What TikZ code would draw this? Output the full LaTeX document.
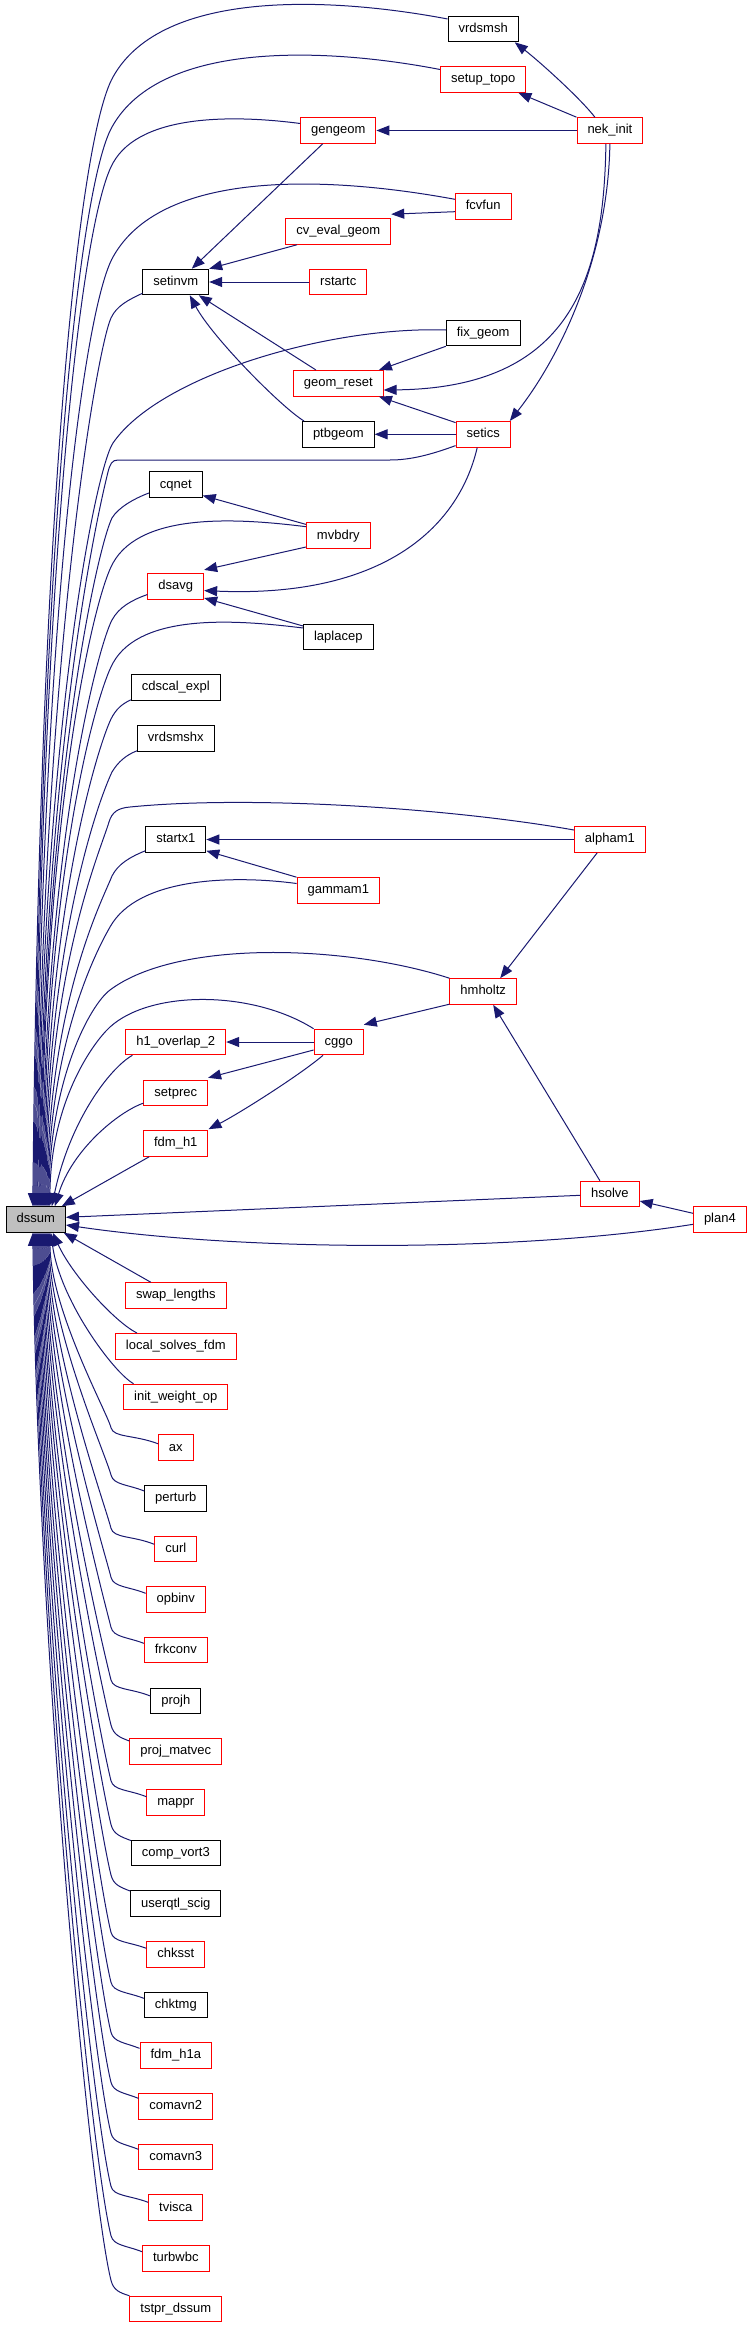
\documentclass[tikz,border=0pt]{standalone}
\usepackage{fontspec}
\setmainfont{Liberation Sans}
\usetikzlibrary{arrows.meta,calc}
\definecolor{edgec}{RGB}{25,25,112}
\definecolor{nodered}{RGB}{255,0,0}
\definecolor{dssumfill}{RGB}{191,191,191}
\tikzset{
  fn/.style={draw, line width=1pt, inner xsep=10.5pt, inner ysep=0pt, minimum height=25.6pt,
    text height=9.4pt, text depth=2.8pt, font=\fontsize{13}{15}\selectfont, fill=white},
  rfn/.style={fn, draw=nodered},
  bfn/.style={fn, draw=black},
  edge/.style={draw=edgec, line width=1pt, -{Triangle[length=13pt,width=10pt]}}
}
\begin{document}
\begin{tikzpicture}[x=1pt,y=-1pt]
\useasboundingbox (0,0) rectangle (752,2328);
% ---------- nodes ----------
\node[bfn] (vrdsmsh) at (483.2,29) {vrdsmsh};
\node[rfn] (setuptopo) at (483.2,79.5) {setup\_topo};
\node[rfn] (gengeom) at (338.3,130.5) {gengeom};
\node[rfn] (nekinit) at (609.9,130.5) {nek\_init};
\node[rfn] (fcvfun) at (483.2,206.3) {fcvfun};
\node[rfn] (cveval) at (338.3,231.5) {cv\_eval\_geom};
\node[bfn] (setinvm) at (175.8,282) {setinvm};
\node[rfn] (rstartc) at (338.3,282) {rstartc};
\node[bfn] (fixgeom) at (483.2,333) {fix\_geom};
\node[rfn] (geomreset) at (338.3,383.3) {geom\_reset};
\node[bfn] (ptbgeom) at (338.3,434.3) {ptbgeom};
\node[rfn] (setics) at (483.2,434.3) {setics};
\node[bfn] (cqnet) at (175.8,484.7) {cqnet};
\node[rfn] (mvbdry) at (338.3,535.7) {mvbdry};
\node[rfn] (dsavg) at (175.8,586.2) {dsavg};
\node[bfn] (laplacep) at (338.3,637) {laplacep};
\node[bfn] (cdscalexpl) at (175.8,687.5) {cdscal\_expl};
\node[bfn] (vrdsmshx) at (175.8,738.5) {vrdsmshx};
\node[bfn] (startx1) at (175.8,839.5) {startx1};
\node[rfn] (alpham1) at (609.9,839.5) {alpham1};
\node[rfn] (gammam1) at (338.3,890.5) {gammam1};
\node[rfn] (hmholtz) at (483.2,991.5) {hmholtz};
\node[rfn] (h1overlap) at (175.8,1042) {h1\_overlap\_2};
\node[rfn] (cggo) at (338.7,1042) {cggo};
\node[rfn] (setprec) at (175.8,1092.8) {setprec};
\node[rfn] (fdmh1) at (175.8,1143.5) {fdm\_h1};
\node[rfn] (hsolve) at (609.9,1194) {hsolve};
\node[rfn] (plan4) at (719.9,1219.5) {plan4};
\node[bfn, fill=dssumfill] (dssum) at (35.8,1219.5) {dssum};
\node[rfn] (swaplengths) at (175.8,1295.5) {swap\_lengths};
\node[rfn] (localsolves) at (175.8,1346.3) {local\_solves\_fdm};
\node[rfn] (initweight) at (175.8,1397) {init\_weight\_op};
\node[rfn] (ax) at (175.8,1447.7) {ax};
\node[bfn] (perturb) at (175.8,1498.3) {perturb};
\node[rfn] (curl) at (175.8,1549) {curl};
\node[rfn] (opbinv) at (175.8,1599.5) {opbinv};
\node[rfn] (frkconv) at (175.8,1650) {frkconv};
\node[bfn] (projh) at (175.8,1701) {projh};
\node[rfn] (projmatvec) at (175.8,1751.5) {proj\_matvec};
\node[rfn] (mappr) at (175.8,1802.5) {mappr};
\node[bfn] (compvort) at (175.8,1853) {comp\_vort3};
\node[bfn] (userqtl) at (175.8,1903.7) {userqtl\_scig};
\node[rfn] (chksst) at (175.8,1954.3) {chksst};
\node[bfn] (chktmg) at (175.8,2005) {chktmg};
\node[rfn] (fdmhone) at (175.8,2055.5) {fdm\_h1a};
\node[rfn] (comavntwo) at (175.8,2106.3) {comavn2};
\node[rfn] (comavnthree) at (175.8,2157) {comavn3};
\node[rfn] (tvisca) at (175.8,2207.7) {tvisca};
\node[rfn] (turbwbc) at (175.8,2258.3) {turbwbc};
\node[rfn] (tstpr) at (175.8,2309) {tstpr\_dssum};
% ---------- edges among callers ----------
\draw[edge] ($(nekinit.north)+(-15,0)$) .. controls (580,98) and (540,62) .. ($(vrdsmsh.south east)+(-4,0)$);
\draw[edge] (nekinit.north west) -- ($(setuptopo.south east)+(-8,0)$);
\draw[edge] (nekinit.west) -- (gengeom.east);
\draw[edge] ($(nekinit.south)+(-4,0)$) .. controls (604,280) and (570,388) .. ($(geomreset.east)+(0,6.7)$);
\draw[edge] (nekinit.south) .. controls (608,260) and (558,360) .. ($(setics.north east)+(-1,0)$);
\draw[edge] ($(gengeom.south west)+(22.5,0)$) -- ($(setinvm.north)+(16,0)$);
\draw[edge] ($(fcvfun.west)+(0,5.4)$) -- ($(cveval.north east)+(0,-4)$);
\draw[edge] ($(cveval.south west)+(11.5,0)$) -- (setinvm.north east);
\draw[edge] (rstartc.west) -- (setinvm.east);
\draw[edge] ($(geomreset.north west)+(23,0)$) -- ($(setinvm.south)+(23,0)$);
\draw[edge] ($(ptbgeom.north west)+(2,0)$) .. controls (281,407) and (212,337) .. ($(setinvm.south)+(14,0)$);
\draw[edge] (fixgeom.south west) -- ($(geomreset.north east)+(-4.7,0)$);
\draw[edge] ($(setics.north west)+(0,1.6)$) -- ($(geomreset.south east)+(-4.7,0)$);
\draw[edge] (setics.west) -- (ptbgeom.east);
\draw[edge] ($(setics.south)+(-6,0)$) .. controls (458,530) and (380,598) .. ($(dsavg.east)+(0,4.4)$);
\draw[edge] ($(mvbdry.north west)+(0,2)$) -- ($(cqnet.south east)+(0,-2.5)$);
\draw[edge] ($(mvbdry.south west)+(0,-2)$) -- ($(dsavg.north east)+(0,-3)$);
\draw[edge] ($(laplacep.north west)+(0,2.3)$) -- ($(dsavg.south east)+(0,-1.5)$);
\draw[edge] (alpham1.west) -- (startx1.east);
\draw[edge] (gammam1.north west) -- ($(startx1.south east)+(0,-2)$);
\draw[edge] ($(alpham1.south)+(-12.7,0)$) -- ($(hmholtz.north)+(17,0)$);
\draw[edge] ($(hmholtz.south west)+(0,-0.6)$) -- ($(cggo.north east)+(0,-4)$);
\draw[edge] (cggo.west) -- (h1overlap.east);
\draw[edge] ($(cggo.west)+(0,8)$) -- ($(setprec.north east)+(0,-1.7)$);
\draw[edge] ($(cggo.south west)+(9.4,0)$) .. controls (300,1075) and (238.7,1113.7) .. ($(fdmh1.north east)+(0,-1)$);
\draw[edge] ($(hsolve.north)+(-10,0)$) -- ($(hmholtz.south)+(10,0)$);
\draw[edge] ($(plan4.west)+(0,-6.2)$) -- ($(hsolve.east)+(0,7)$);
% ---------- edges into dssum from above ----------
\draw[edge] ($(vrdsmsh.west)+(0,-10)$) .. controls (337,-2) and (163,-13) .. (113,77) .. controls (79.1,136.9) and (39.6,506.3) .. ($(dssum.north)+(-3,0)$);
\draw[edge] ($(setuptopo.west)+(0,-10)$) .. controls (331.6,48.5) and (161.2,38.5) .. (112,127) .. controls (79.6,184.2) and (40.3,537.3) .. ($(dssum.north)+(-2,0)$);
\draw[edge] ($(gengeom.west)+(0,-7)$) .. controls (239.2,115.5) and (141.2,112.2) .. (113,163) .. controls (81.7,218.3) and (41.1,559.6) .. ($(dssum.north)+(-1,0)$);
\draw[edge] ($(fcvfun.west)+(0,-7)$) .. controls (341.3,178.3) and (164.1,165) .. (113,257) .. controls (84.5,307.3) and (41.5,617.9) .. (dssum.north);
\draw[edge] ($(setinvm.south west)+(0,-2)$) .. controls (128,300) and (116.5,306) .. (111,318) .. controls (97.2,348) and (42.1,655.7) .. ($(dssum.north)+(1,0)$);
\draw[edge] ($(fixgeom.west)+(0,-3)$) .. controls (330,326) and (160,375) .. (113,443) .. controls (96,468) and (41.4,733) .. ($(dssum.north)+(2,0)$);
\draw[edge] ($(setics.south west)+(0,-2)$) .. controls (430,455) and (410,460) .. (390,460) -- (118,460) .. controls (112,460) and (110,464) .. (108,472) .. controls (98,512) and (43.3,751) .. ($(dssum.north)+(3,0)$);
\draw[edge] ($(cqnet.south west)+(0,-5)$) .. controls (133,499) and (118,508) .. (112,518) .. controls (98,546) and (43.8,779.7) .. ($(dssum.north)+(4,0)$);
\draw[edge] ($(mvbdry.west)+(0,-9)$) .. controls (242,518.7) and (141.9,511) .. (113,563) .. controls (93.7,597.1) and (44.2,807.6) .. ($(dssum.north)+(5,0)$);
\draw[edge] ($(dsavg.south west)+(0,-5)$) .. controls (132,600) and (119,607) .. (112,620) .. controls (98.5,645) and (44.9,843) .. ($(dssum.north)+(6,0)$);
\draw[edge] ($(laplacep.west)+(0,-9)$) .. controls (240.4,620.3) and (141.5,611.7) .. (113,663) .. controls (96.7,691.8) and (45.7,869.6) .. ($(dssum.north)+(7,0)$);
\draw[edge] ($(cdscalexpl.south west)+(0,-1)$) .. controls (122,704) and (116,709) .. (111,719) .. controls (99,744) and (46.4,904) .. ($(dssum.north)+(8,0)$);
\draw[edge] ($(vrdsmshx.south west)+(0,-1)$) .. controls (126,755) and (118,762) .. (112,772) .. controls (100,797) and (47.1,937) .. ($(dssum.north)+(9,0)$);
\draw[edge] ($(alpham1.west)+(0,-9.5)$) .. controls (450,808) and (250,795) .. (130,807) .. controls (118,808) and (112,812) .. (109,822) .. controls (100,852) and (47.8,968) .. ($(dssum.north)+(10,0)$);
\draw[edge] ($(startx1.south west)+(0,-2)$) .. controls (130,857) and (118,864) .. (112,876) .. controls (102,901) and (48.8,1001.7) .. ($(dssum.north)+(11,0)$);
\draw[edge] ($(gammam1.west)+(0,-7)$) .. controls (235.6,875.3) and (138.1,876.4) .. (110,927) .. controls (101.6,941.8) and (49.5,1033.3) .. ($(dssum.north)+(12,0)$);
\draw[edge] (hmholtz.north west) .. controls (347,945) and (178,939) .. (110,990) .. controls (89.6,1005.3) and (49.8,1080) .. ($(dssum.north)+(13,0)$);
\draw[edge] (cggo.north west) .. controls (252,990) and (150.6,990) .. (110,1027) .. controls (93.8,1041.8) and (50.8,1100) .. ($(dssum.north)+(14,0)$);
\draw[edge] ($(h1overlap.south west)+(7,0)$) .. controls (110,1068) and (70,1120) .. ($(dssum.north)+(16,0)$);
\draw[edge] ($(setprec.south west)+(0,-3)$) .. controls (118,1112) and (72,1150) .. ($(dssum.north)+(19,0)$);
\draw[edge] ($(fdmh1.south west)+(6,0)$) -- ($(dssum.north)+(26,0)$);
\draw[edge] ($(hsolve.west)+(0,1.3)$) -- ($(dssum.east)+(0,-2.2)$);
\draw[edge] ($(plan4.west)+(0,4.8)$) .. controls (520,1252) and (250,1252) .. ($(dssum.east)+(0,5.5)$);
% ---------- edges into dssum from below ----------
\draw[edge] ($(swaplengths.north west)+(25.7,0)$) -- ($(dssum.south)+(28,0)$);
\draw[edge] ($(localsolves.north west)+(22,0)$) .. controls (115,1322) and (72,1275) .. ($(dssum.south)+(17,0)$);
\draw[edge] ($(initweight.north west)+(10.3,0)$) .. controls (113,1372) and (60,1300) .. ($(dssum.south)+(15,0)$);
\draw[edge] ($(ax.west)+(0,-4)$) .. controls (133.7,1434.6) and (113.5,1437.7) .. (111,1427.7) .. controls (107.1,1412.1) and (50.8,1310.5) .. ($(dssum.south)+(14,0)$);
\draw[edge] ($(perturb.west)+(0,-7.3)$) .. controls (127.7,1484.3) and (113.5,1485) .. (111,1475) .. controls (106.1,1455.6) and (50,1329.4) .. ($(dssum.south)+(13,0)$);
\draw[edge] ($(curl.west)+(0,-4.7)$) .. controls (132.7,1535.6) and (113.5,1538.3) .. (111,1528.3) .. controls (105.1,1504.6) and (49.3,1350.7) .. ($(dssum.south)+(12,0)$);
\draw[edge] ($(opbinv.west)+(0,-6.2)$) .. controls (128.4,1586.4) and (113.5,1587.3) .. (111,1577.3) .. controls (104.1,1549.7) and (48.5,1370.3) .. ($(dssum.south)+(11,0)$);
\draw[edge] ($(frkconv.west)+(0,-6.7)$) .. controls (127,1636.9) and (113.5,1637.3) .. (111,1627.3) .. controls (103.1,1595.7) and (47.8,1390.3) .. ($(dssum.south)+(10,0)$);
\draw[edge] ($(projh.west)+(0,-5)$) .. controls (130.7,1688.1) and (113.5,1690) .. (111,1680) .. controls (102,1644.2) and (47,1411.4) .. ($(dssum.south)+(9,0)$);
\draw[edge] ($(projmatvec.west)+(0,-10.5)$) .. controls (120,1737.4) and (113.5,1735) .. (111,1725) .. controls (101.1,1685.6) and (46.3,1429.4) .. ($(dssum.south)+(8,0)$);
\draw[edge] ($(mappr.west)+(0,-5.8)$) .. controls (128.7,1789.6) and (113.5,1790.7) .. (111,1780.7) .. controls (100,1736.8) and (45.5,1451.7) .. ($(dssum.south)+(7,0)$);
\draw[edge] ($(compvort.west)+(0,-12.5)$) .. controls (120.8,1836.6) and (113.5,1834.5) .. (111,1824.5) .. controls (99.2,1777.1) and (44.8,1469.2) .. ($(dssum.south)+(6,0)$);
\draw[edge] ($(userqtl.west)+(0,-12.7)$) .. controls (120.5,1887.2) and (113.5,1885) .. (111,1875) .. controls (98.1,1823.6) and (44,1489.4) .. ($(dssum.south)+(5,0)$);
\draw[edge] ($(chksst.west)+(0,-6)$) .. controls (127.9,1941.5) and (113.5,1942.3) .. (111,1932.3) .. controls (97,1876.3) and (43.3,1512.3) .. ($(dssum.south)+(4,0)$);
\draw[edge] ($(chktmg.west)+(0,-6.7)$) .. controls (127,1991.9) and (113.5,1992.3) .. (111,1982.3) .. controls (96,1922.3) and (42.5,1532.3) .. ($(dssum.south)+(3,0)$);
\draw[edge] ($(fdmhone.west)+(0,-7.2)$) .. controls (125.3,2042.6) and (113.5,2042.3) .. (111,2032.3) .. controls (95,1968.3) and (41.8,1552.3) .. ($(dssum.south)+(2,0)$);
\draw[edge] ($(comavntwo.west)+(0,-8)$) .. controls (124.8,2092.8) and (113.5,2092.3) .. (111,2082.3) .. controls (94,2014.3) and (41.1,1572.3) .. ($(dssum.south)+(1,0)$);
\draw[edge] ($(comavnthree.west)+(0,-7.7)$) .. controls (124.8,2143.8) and (113.5,2143.3) .. (111,2133.3) .. controls (93,2061.2) and (40.3,1592.7) .. (dssum.south);
\draw[edge] ($(tvisca.west)+(0,-5.4)$) .. controls (129.1,2195.1) and (113.5,2196.3) .. (111,2186.3) .. controls (91.9,2110) and (39.6,1613.9) .. ($(dssum.south)+(-1,0)$);
\draw[edge] ($(turbwbc.west)+(0,-6.6)$) .. controls (126.5,2245.5) and (113.5,2245.7) .. (111,2235.7) .. controls (90.9,2155.4) and (38.8,1633.7) .. ($(dssum.south)+(-2,0)$);
\draw[edge] (tstpr.north west) .. controls (119.8,2292.8) and (113.5,2290.3) .. (111,2280.3) .. controls (90,2196.5) and (38,1651.5) .. ($(dssum.south)+(-3,0)$);
\end{tikzpicture}
\end{document}
